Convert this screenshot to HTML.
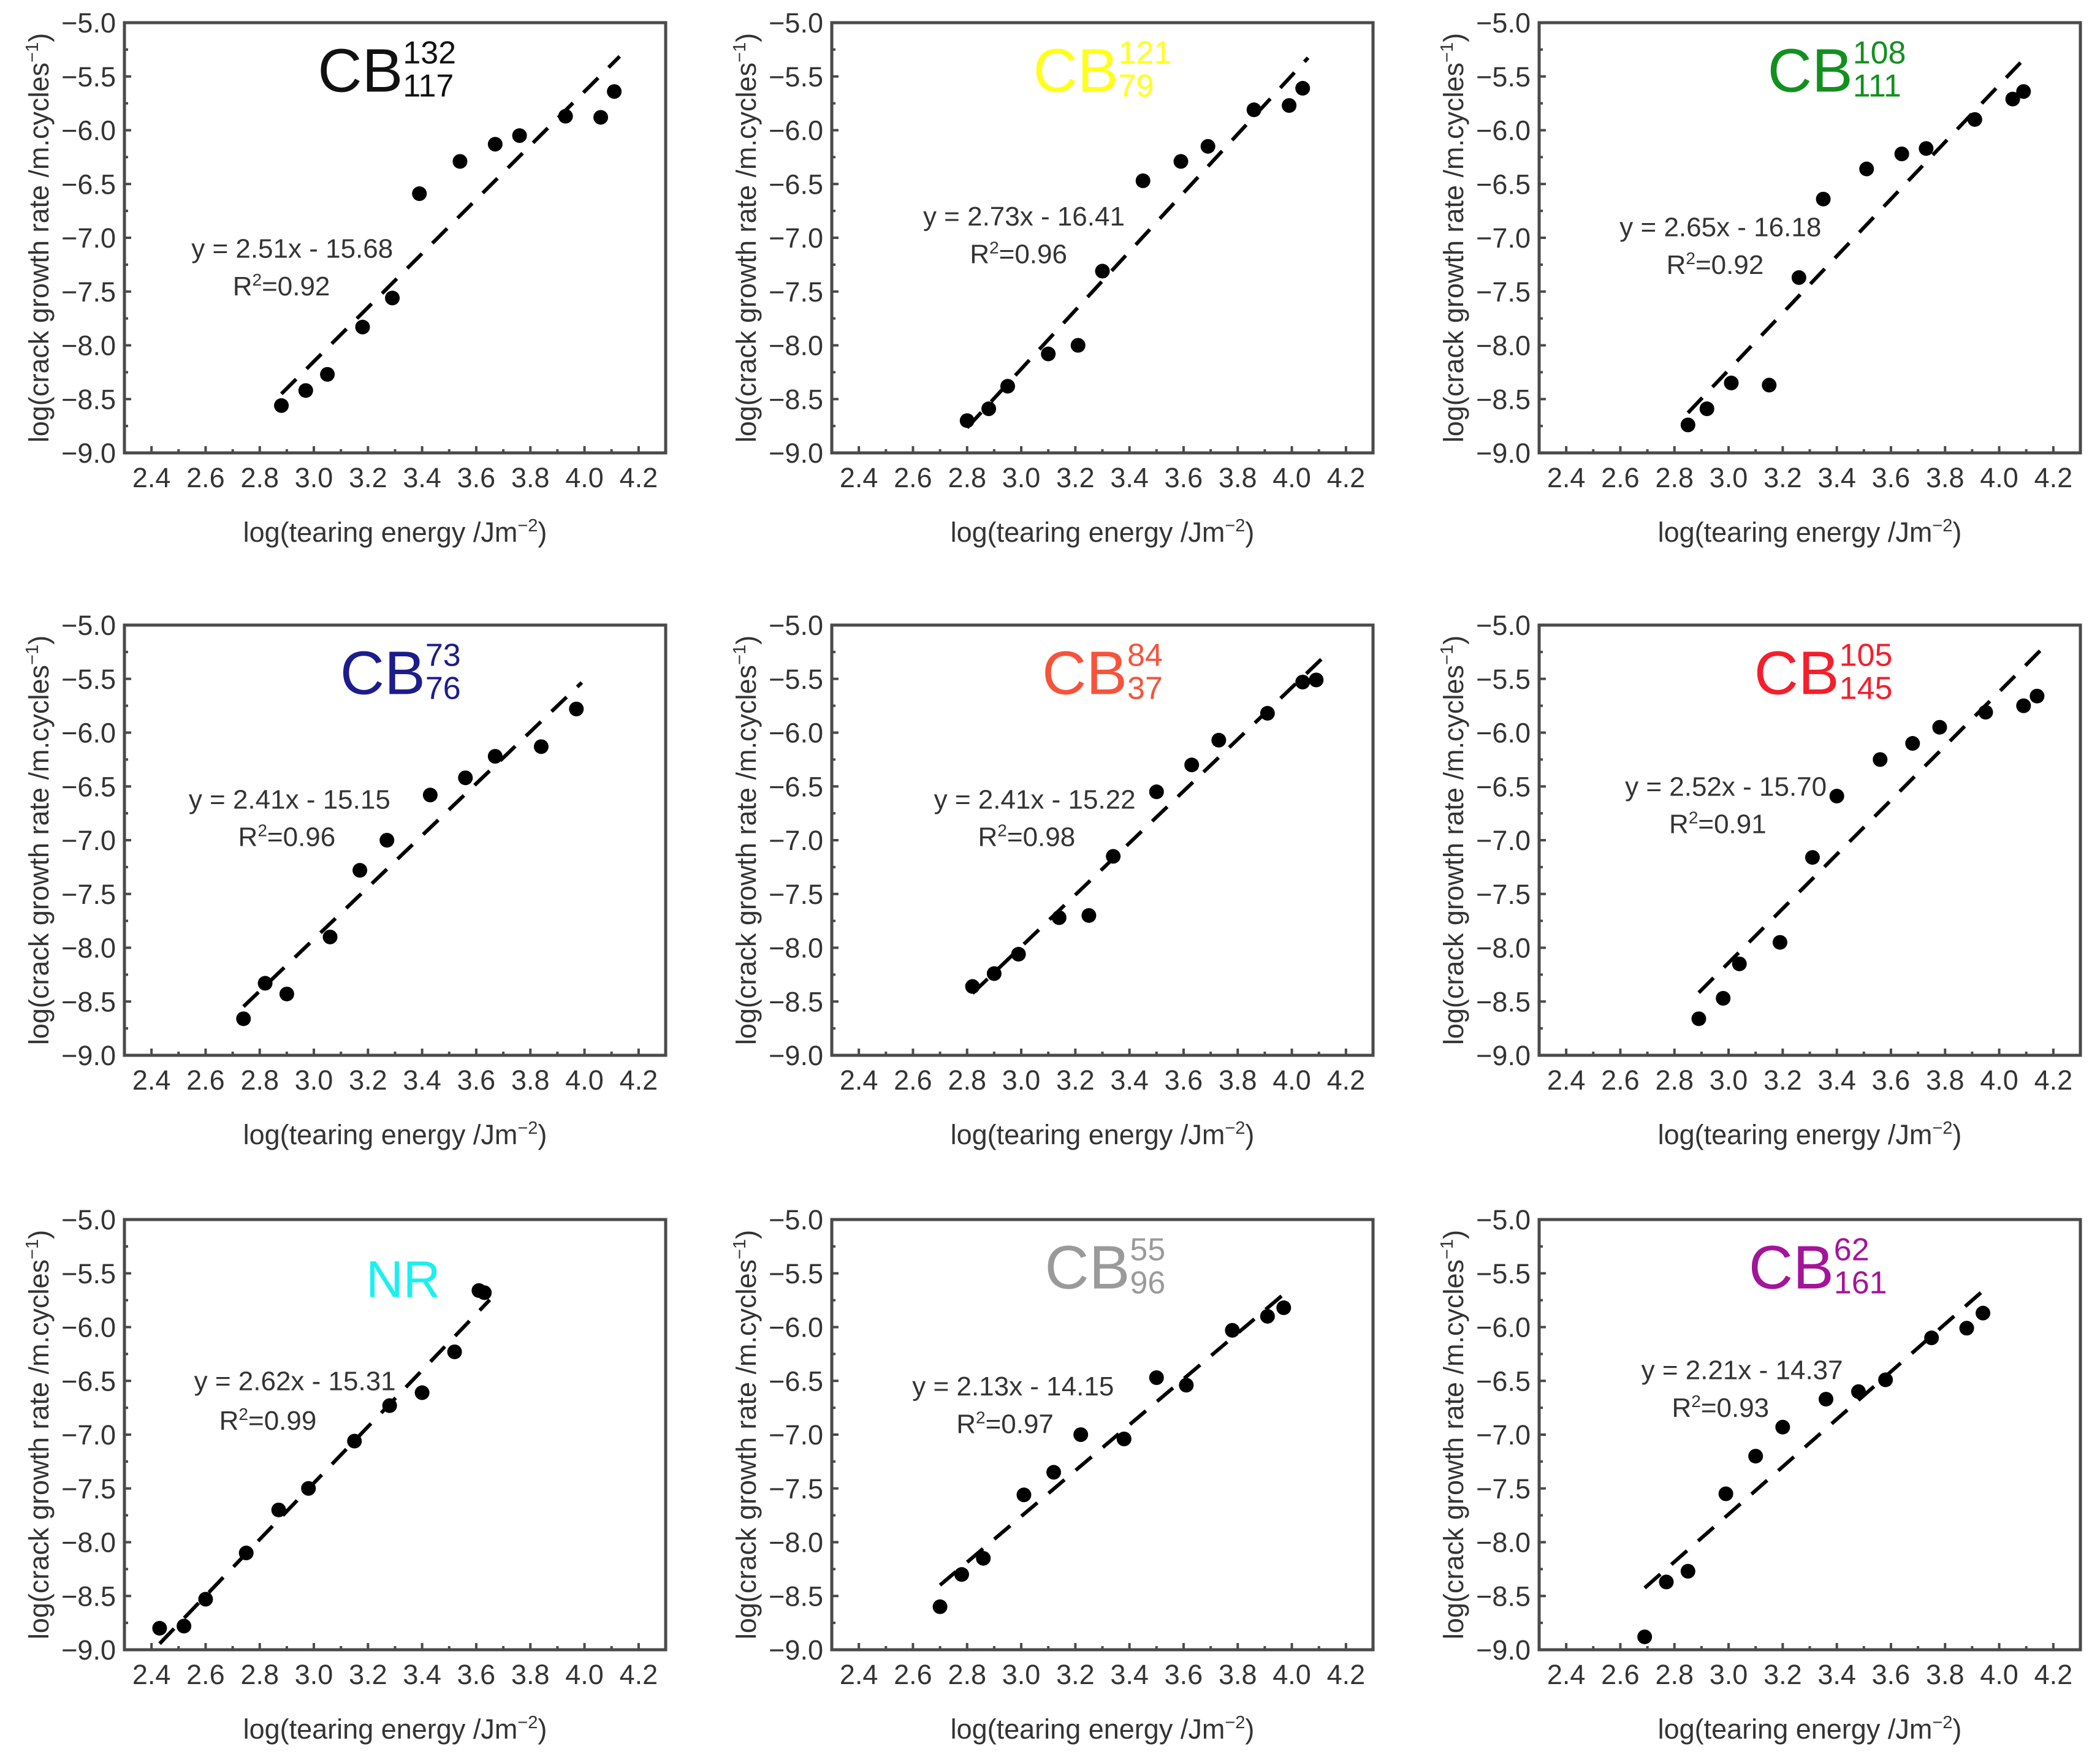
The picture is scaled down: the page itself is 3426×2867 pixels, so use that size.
<!DOCTYPE html>
<html><head><meta charset="utf-8">
<style>
html,body{margin:0;padding:0;background:#fff;}
svg{display:block;font-family:"Liberation Sans",Arial,sans-serif;}
</style></head>
<body>
<svg id="fig" xmlns="http://www.w3.org/2000/svg" width="3426" height="2867" viewBox="0 0 3426 2867"></svg>
<script>
// ---- data ----
const xTicks = [2.4,2.6,2.8,3.0,3.2,3.4,3.6,3.8,4.0,4.2];
const xTickLabels = ["2.4","2.6","2.8","3.0","3.2","3.4","3.6","3.8","4.0","4.2"];
const yTicks = [-5.0,-5.5,-6.0,-6.5,-7.0,-7.5,-8.0,-8.5,-9.0];
const yTickLabels = ["\u22125.0","\u22125.5","\u22126.0","\u22126.5","\u22127.0","\u22127.5","\u22128.0","\u22128.5","\u22129.0"];

const panelNames = ["CB","CB","CB","CB","CB","CB","NR","CB","CB"];
const panelSup = ["132","121","108","73","84","105","","55","62"];
const panelSub = ["117","79","111","76","37","145","","96","161"];
const panelColors = ["#111111","#ffff1a","#12901e","#1c1c8c","#f7533b","#f51e2c","#19f0f0","#9a9a9a","#a3149a"];
const slopes = [2.51,2.73,2.65,2.41,2.41,2.52,2.62,2.13,2.21];
const intercepts = [-15.68,-16.41,-16.18,-15.15,-15.22,-15.70,-15.31,-14.15,-14.37];
const r2Values = ["0.92","0.96","0.92","0.96","0.98","0.91","0.99","0.97","0.93"];

const p1X = [2.88,2.97,3.05,3.18,3.29,3.39,3.54,3.67,3.76,3.93,4.06,4.11];
const p1Y = [-8.56,-8.42,-8.27,-7.83,-7.56,-6.59,-6.29,-6.13,-6.05,-5.87,-5.88,-5.64];
const p2X = [2.80,2.88,2.95,3.10,3.21,3.30,3.45,3.59,3.69,3.86,3.99,4.04];
const p2Y = [-8.70,-8.59,-8.38,-8.08,-8.00,-7.31,-6.47,-6.29,-6.15,-5.81,-5.77,-5.61];
const p3X = [2.85,2.92,3.01,3.15,3.26,3.35,3.51,3.64,3.73,3.91,4.05,4.09];
const p3Y = [-8.74,-8.59,-8.35,-8.37,-7.37,-6.64,-6.36,-6.22,-6.17,-5.90,-5.71,-5.64];
const p4X = [2.74,2.82,2.90,3.06,3.17,3.27,3.43,3.56,3.67,3.84,3.97];
const p4Y = [-8.66,-8.33,-8.43,-7.90,-7.28,-7.00,-6.58,-6.42,-6.22,-6.13,-5.78];
const p5X = [2.82,2.90,2.99,3.14,3.25,3.34,3.50,3.63,3.73,3.91,4.04,4.09];
const p5Y = [-8.36,-8.24,-8.06,-7.72,-7.70,-7.15,-6.55,-6.30,-6.07,-5.82,-5.53,-5.51];
const p6X = [2.89,2.98,3.04,3.19,3.31,3.40,3.56,3.68,3.78,3.95,4.09,4.14];
const p6Y = [-8.66,-8.47,-8.15,-7.95,-7.16,-6.59,-6.25,-6.10,-5.95,-5.81,-5.75,-5.66];
const p7X = [2.43,2.52,2.60,2.75,2.87,2.98,3.15,3.28,3.40,3.52,3.61,3.63];
const p7Y = [-8.80,-8.78,-8.53,-8.10,-7.70,-7.50,-7.06,-6.73,-6.61,-6.23,-5.66,-5.68];
const p8X = [2.70,2.78,2.86,3.01,3.12,3.22,3.38,3.50,3.61,3.78,3.91,3.97];
const p8Y = [-8.60,-8.30,-8.15,-7.56,-7.35,-7.00,-7.04,-6.47,-6.54,-6.03,-5.90,-5.82];
const p9X = [2.69,2.77,2.85,2.99,3.10,3.20,3.36,3.48,3.58,3.75,3.88,3.94];
const p9Y = [-8.88,-8.37,-8.27,-7.55,-7.20,-6.93,-6.67,-6.60,-6.49,-6.10,-6.01,-5.87];

const allX = [p1X,p2X,p3X,p4X,p5X,p6X,p7X,p8X,p9X];
const allY = [p1Y,p2Y,p3Y,p4Y,p5Y,p6Y,p7Y,p8Y,p9Y];

// ---- layout ----
const colLeft = [203,1357,2511];
const rowTop = [37,1020,1990];
const W = 883, H = 702;
const XMIN = 2.3, XMAX = 4.3, YMIN = -9.0, YMAX = -5.0;
const titleXData = [3.27,3.30,3.40,3.32,3.30,3.35,3.33,3.31,3.33];
const eqPos = [[2.92,-7.10],[3.01,-6.80],[2.97,-6.90],[2.91,-6.62],[3.05,-6.62],[2.99,-6.50],[2.93,-6.50],[2.97,-6.55],[3.05,-6.40]];
const r2Pos = [[2.88,-7.45],[2.99,-7.15],[2.95,-7.25],[2.90,-6.97],[3.02,-6.97],[2.96,-6.85],[2.83,-6.87],[2.94,-6.90],[2.97,-6.75]];

const NS = "http://www.w3.org/2000/svg";
const svg = document.getElementById('fig');
function mk(tag, attrs, parent){ const e=document.createElementNS(NS,tag); for(const k in attrs) e.setAttribute(k,attrs[k]); (parent||svg).appendChild(e); return e; }

for (let p=0;p<9;p++){
  const L = colLeft[p%3], T = rowTop[Math.floor(p/3)];
  const sx = v => L + (v-XMIN)/(XMAX-XMIN)*W;
  const sy = v => T + (YMAX-v)/(YMAX-YMIN)*H;
  const g = mk('g',{});
  
  

  const fr = mk('rect',{x:L,y:T,width:W,height:H,fill:'none',stroke:'#4a4a4a','stroke-width':5},g);
  
  

  for (let i=0;i<xTicks.length;i++){
    const x = sx(xTicks[i]);
    const t = mk('line',{x1:x,y1:T+H,x2:x,y2:T+H-11,stroke:'#4a4a4a','stroke-width':4},g);
    
    
    const mx = sx(xTicks[i]+0.1);
    if (xTicks[i]+0.1 < XMAX){
      const m = mk('line',{x1:mx,y1:T+H,x2:mx,y2:T+H-6,stroke:'#4a4a4a','stroke-width':4},g);
      
      
    }
    const lb = mk('text',{x:x,y:T+H+56,'font-size':45,'text-anchor':'middle',fill:'#333'},g);
    lb.textContent = xTickLabels[i];
    
    
  }
  for (let i=0;i<yTicks.length;i++){
    const y = sy(yTicks[i]);
    const t = mk('line',{x1:L,y1:y,x2:L+11,y2:y,stroke:'#4a4a4a','stroke-width':4},g);
    
    
    if (yTicks[i]-0.25 > YMIN){
      const my = sy(yTicks[i]-0.25);
      const m = mk('line',{x1:L,y1:my,x2:L+6,y2:my,stroke:'#4a4a4a','stroke-width':4},g);
      
      
    }
    const lb = mk('text',{x:L-14,y:y+16,'font-size':45,'text-anchor':'end',fill:'#333'},g);
    lb.textContent = yTickLabels[i];
    
    
  }
  const xt = mk('text',{x:L+W/2,y:T+H+145,'font-size':45,'text-anchor':'middle',fill:'#333'},g);
  xt.innerHTML = 'log(tearing energy /Jm<tspan dy="-17" font-size="29">\u22122</tspan><tspan dy="17">)</tspan>';
  
  
  const yt = mk('text',{x:0,y:0,'font-size':45,'text-anchor':'middle',fill:'#333',transform:`translate(${L-124},${T+H/2}) rotate(-90)`},g);
  yt.innerHTML = 'log(crack growth rate /m.cycles<tspan dy="-17" font-size="29">\u22121</tspan><tspan dy="17">)</tspan>';
  
  

  const xs = allX[p], ys = allY[p];
  const x0 = xs[0], x1 = xs[xs.length-1];
  const fl = mk('line',{x1:sx(x0),y1:sy(slopes[p]*x0+intercepts[p]),x2:sx(x1+0.02),y2:sy(slopes[p]*(x1+0.02)+intercepts[p]),stroke:'#000','stroke-width':6,'stroke-dasharray':'34 24'},g);
  
  

  for (let i=0;i<xs.length;i++){
    const c = mk('circle',{cx:sx(xs[i]),cy:sy(ys[i]),r:12,fill:'#000'},g);
    
    
  }

  const tt = mk('text',{x:sx(titleXData[p]),y:sy(-5.64),'font-size':100,'text-anchor':'middle',fill:panelColors[p]},g);
  if (panelSup[p]) {
    tt.innerHTML = panelNames[p] + '<tspan font-size="52" dy="-46">'+panelSup[p]+'</tspan><tspan font-size="52" dx="-'+(panelSup[p].length*28.9)+'" dy="54">'+panelSub[p]+'</tspan>';
  } else {
    tt.setAttribute('font-size','84');
    tt.setAttribute('y', sy(-5.72));
    tt.textContent = panelNames[p];
  }
  
  

  const eq = mk('text',{x:sx(eqPos[p][0]),y:sy(eqPos[p][1])+15,'font-size':44,'text-anchor':'middle',fill:'#333'},g);
  eq.textContent = 'y = '+slopes[p].toFixed(2)+'x - '+Math.abs(intercepts[p]).toFixed(2);
  
  
  const r2 = mk('text',{x:sx(r2Pos[p][0]),y:sy(r2Pos[p][1])+15,'font-size':44,'text-anchor':'middle',fill:'#333'},g);
  r2.innerHTML = 'R<tspan dy="-16" font-size="28">2</tspan><tspan dy="16">='+r2Values[p]+'</tspan>';
  
  
}
</script>
</body></html>
